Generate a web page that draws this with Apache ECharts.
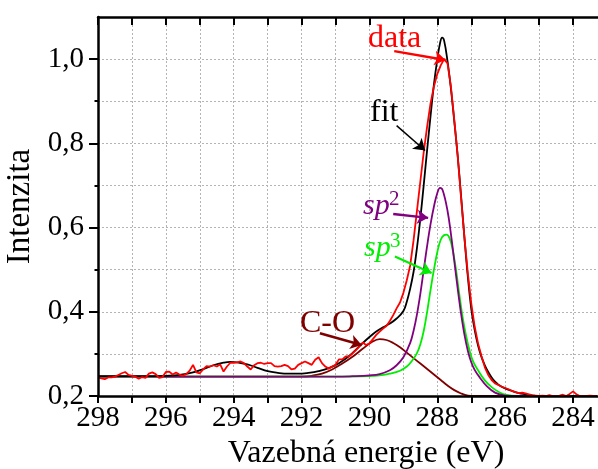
<!DOCTYPE html>
<html><head><meta charset="utf-8">
<script src="https://cdn.jsdelivr.net/npm/echarts@6/dist/echarts.min.js"></script>
<style>html,body{margin:0;padding:0;background:#fff}#c{width:598px;height:469px}</style>
</head><body><div id="c"></div><script>
// ---- tick labels ----
const xTickLabels = [298, 296, 294, 292, 290, 288, 286, 284];
const yTickLabels = [0.2, 0.4, 0.6, 0.8, 1.0];
const yMinorTicks = [0.3, 0.5, 0.7, 0.9];

// ---- measured spectrum (red) [E, I] ----
const dataPoints = [
[298.0,0.244],[297.9,0.242],[297.8,0.240],[297.7,0.244],[297.6,0.244],[297.5,0.246],[297.4,0.250],[297.3,0.254],[297.2,0.257],[297.1,0.250],
[297.0,0.248],[296.9,0.246],[296.8,0.241],[296.7,0.245],[296.6,0.243],[296.5,0.253],[296.4,0.256],[296.3,0.252],[296.2,0.243],[296.1,0.245],
[296.0,0.257],[295.9,0.258],[295.8,0.251],[295.7,0.256],[295.6,0.251],[295.5,0.248],[295.4,0.252],[295.3,0.260],[295.2,0.274],[295.1,0.256],
[295.0,0.254],[294.9,0.263],[294.8,0.271],[294.7,0.270],[294.6,0.273],[294.5,0.270],[294.4,0.275],[294.3,0.258],[294.2,0.270],[294.1,0.279],
[294.0,0.279],[293.9,0.280],[293.8,0.282],[293.7,0.278],[293.6,0.270],[293.5,0.263],[293.4,0.273],[293.3,0.278],[293.2,0.279],[293.1,0.276],
[293.0,0.278],[292.9,0.278],[292.8,0.271],[292.7,0.270],[292.6,0.271],[292.5,0.274],[292.4,0.271],[292.3,0.263],[292.2,0.265],[292.1,0.274],
[292.0,0.278],[291.9,0.282],[291.8,0.278],[291.7,0.274],[291.6,0.286],[291.5,0.292],[291.4,0.278],[291.3,0.270],[291.2,0.265],[291.1,0.270],
[291.0,0.274],[290.9,0.287],[290.8,0.287],[290.7,0.294],[290.6,0.294],[290.5,0.301],[290.4,0.309],[290.3,0.317],[290.2,0.327],[290.1,0.321],
[290.0,0.325],[289.9,0.335],[289.8,0.345],[289.7,0.353],[289.6,0.360],[289.5,0.366],[289.4,0.378],[289.3,0.392],[289.2,0.408],[289.1,0.422],
[289.0,0.445],[288.9,0.475],[288.8,0.510],[288.7,0.570],[288.6,0.640],[288.5,0.710],[288.4,0.780],[288.3,0.840],[288.2,0.895],[288.1,0.935],
[288.0,0.965],[287.9,0.985],[287.8,1.000],[287.7,0.990],[287.6,0.935],[287.5,0.855],[287.4,0.770],[287.3,0.670],[287.2,0.575],[287.1,0.490],
[287.0,0.420],[286.9,0.365],[286.8,0.325],[286.7,0.295],[286.6,0.268],[286.5,0.250],[286.4,0.238],[286.3,0.230],[286.2,0.226],[286.1,0.222],
[286.0,0.219],[285.9,0.216],[285.8,0.212],[285.7,0.209],[285.6,0.207],[285.5,0.208],[285.4,0.206],[285.3,0.204],[285.2,0.202],[285.1,0.201],
[285.0,0.200],[284.9,0.201],[284.8,0.200],[284.7,0.202],[284.6,0.200],[284.5,0.200],[284.4,0.201],[284.3,0.203],[284.2,0.200],[284.1,0.205],
[284.0,0.211],[283.9,0.204],[283.8,0.200],[283.7,0.200],[283.6,0.200],[283.5,0.201],[283.4,0.200],[283.3,0.200]
];

// ---- total fit (black) ----
const fitPoints = [
[298.0,0.247],[296.5,0.247],[296.0,0.248],[295.6,0.250],[295.2,0.256],[294.9,0.264],[294.6,0.273],[294.3,0.279],[294.1,0.281],[293.9,0.280],
[293.6,0.275],[293.3,0.267],[293.0,0.259],[292.7,0.255],[292.4,0.253],[292.1,0.253],[291.8,0.255],[291.5,0.259],[291.2,0.266],[290.9,0.278],
[290.6,0.295],[290.3,0.318],[290.0,0.340],[289.8,0.353],[289.6,0.363],[289.4,0.372],[289.2,0.384],[289.0,0.402],[288.9,0.424],[288.8,0.455],
[288.7,0.495],[288.6,0.552],[288.5,0.622],[288.4,0.702],[288.3,0.785],[288.2,0.865],[288.1,0.940],[288.0,1.000],[287.92,1.038],[287.86,1.051],
[287.8,1.044],[287.7,0.995],[287.6,0.930],[287.5,0.852],[287.4,0.770],[287.3,0.675],[287.2,0.575],[287.1,0.482],[287.0,0.407],[286.9,0.357],
[286.8,0.320],[286.7,0.293],[286.6,0.273],[286.5,0.257],[286.4,0.244],[286.3,0.234],[286.2,0.227],[286.0,0.218],[285.8,0.212],[285.6,0.207],
[285.4,0.204],[285.2,0.201],[285.0,0.200],[283.3,0.200]
];

// ---- sp2 component (purple) ----
const sp2Points = [
[298.0,0.246],[291.0,0.246],[290.5,0.247],[290.0,0.249],[289.7,0.252],[289.4,0.261],[289.2,0.273],[289.0,0.292],[288.8,0.326],[288.7,0.355],
[288.6,0.394],[288.5,0.443],[288.4,0.500],[288.3,0.557],[288.2,0.608],[288.1,0.650],[288.0,0.682],[287.92,0.694],[287.84,0.688],[287.7,0.640],
[287.6,0.585],[287.5,0.520],[287.4,0.455],[287.3,0.395],[287.2,0.345],[287.1,0.307],[287.0,0.280],[286.9,0.262],[286.75,0.244],[286.55,0.224],
[286.3,0.208],[286.0,0.201],[285.7,0.200],[283.3,0.200]
];

// ---- sp3 component (green) ----
const sp3Points = [
[298.0,0.246],[290.5,0.246],[290.0,0.247],[289.7,0.249],[289.4,0.253],[289.1,0.260],[288.9,0.270],[288.75,0.283],[288.6,0.302],[288.5,0.323],
[288.4,0.355],[288.3,0.400],[288.2,0.452],[288.1,0.500],[288.0,0.542],[287.9,0.571],[287.8,0.582],[287.73,0.583],[287.64,0.575],[287.55,0.548],
[287.45,0.500],[287.35,0.440],[287.25,0.385],[287.15,0.342],[287.05,0.308],[286.95,0.283],[286.8,0.261],[286.6,0.237],[286.4,0.221],[286.2,0.210],
[286.0,0.203],[285.6,0.200],[283.3,0.200]
];

// ---- C-O component (dark red) ----
const coPoints = [
[298.0,0.246],[292.0,0.246],[291.7,0.248],[291.4,0.253],[291.1,0.263],[290.8,0.277],[290.5,0.293],[290.2,0.312],[289.95,0.327],[289.7,0.335],
[289.5,0.333],[289.3,0.326],[289.1,0.316],[288.9,0.303],[288.7,0.290],[288.5,0.277],[288.3,0.264],[288.1,0.251],[287.9,0.238],[287.7,0.225],
[287.5,0.214],[287.3,0.206],[287.1,0.201],[286.9,0.200],[283.3,0.200]
];

const FONT = '"Liberation Serif", serif';
const RED = '#ff0000', PURPLE = '#800080', GREEN = '#00ee00', MAROON = '#800000';

function arrow(color, width, from, to) {
  return {
    silent: true, symbol: ['none', 'arrow'], symbolSize: 11,
    label: { show: false },
    lineStyle: { color: color, width: width, type: 'solid' },
    data: [[{ coord: from }, { coord: to }]]
  };
}

function lineSeries(name, pts, color, smooth, z, ml) {
  return {
    name: name, type: 'line', data: pts, xAxisIndex: 0, yAxisIndex: 0,
    showSymbol: false, symbol: 'none', smooth: smooth, z: z,
    lineStyle: { color: color, width: 1.8 }, itemStyle: { color: color },
    markLine: ml
  };
}

const chart = echarts.init(document.getElementById('c'), null, { renderer: 'canvas' });
const xCommon = { type: 'value', min: 283, max: 298, interval: 1, inverse: true };
const yCommon = { type: 'value', min: 0.2, max: 1.1, interval: 0.1 };
const labelFont = { fontFamily: FONT, fontSize: 29, color: '#000' };
chart.setOption({
  backgroundColor: '#ffffff',
  animation: false,
  textStyle: { fontFamily: FONT },
  grid: { left: 98, right: -9, top: 17, bottom: 73, outerBoundsMode: 'none', containLabel: false },
  xAxis: [
    Object.assign({}, xCommon, {
      position: 'bottom', z: 5,
      name: 'Vazebná energie (eV)', nameLocation: 'middle', nameGap: 36,
      nameTextStyle: { fontFamily: FONT, fontSize: 32, color: '#000', padding: [0, 0, 0, 27] },
      axisLine: { show: true, onZero: false, lineStyle: { color: '#000', width: 2.5 } },
      axisTick: { show: true, inside: false, length: 7, lineStyle: { color: '#000', width: 2 } },
      axisLabel: Object.assign({ show: true, customValues: xTickLabels, margin: 8,
                   formatter: v => String(Math.round(v)) }, labelFont),
      splitLine: { show: false }
    }),
    Object.assign({}, xCommon, {
      position: 'top',
      axisLine: { show: true, onZero: false, lineStyle: { color: '#000', width: 2.5 } },
      axisTick: { show: true, inside: true, length: 8, lineStyle: { color: '#000', width: 2 } },
      axisLabel: { show: false },
      splitLine: { show: true, lineStyle: { color: '#b4b4b4', width: 1, type: [2, 2] } }
    })
  ],
  yAxis: [
    Object.assign({}, yCommon, {
      position: 'left', z: 5,
      name: 'Intenzita', nameLocation: 'middle', nameGap: 58, nameRotate: 90,
      nameTextStyle: { fontFamily: FONT, fontSize: 33, color: '#000' },
      axisLine: { show: true, onZero: false, lineStyle: { color: '#000', width: 2.5 } },
      axisTick: { show: true, inside: false, length: 9, customValues: yTickLabels, lineStyle: { color: '#000', width: 2 } },
      axisLabel: Object.assign({ show: true, customValues: yTickLabels, margin: 14,
                   formatter: v => v.toFixed(1).replace('.', ',') }, labelFont),
      splitLine: { show: false }
    }),
    Object.assign({}, yCommon, {
      position: 'left', z: 5,
      axisLine: { show: false },
      axisTick: { show: true, inside: false, length: 3.5, customValues: yMinorTicks, lineStyle: { color: '#000', width: 2 } },
      axisLabel: { show: false },
      splitLine: { show: false }
    }),
    Object.assign({}, yCommon, {
      position: 'left',
      axisLine: { show: false },
      axisTick: { show: false },
      axisLabel: { show: false },
      splitLine: { show: true, lineStyle: { color: '#b4b4b4', width: 1, type: [2, 2] } }
    })
  ],
  series: [
    lineSeries('C-O', coPoints, MAROON, 0.4, 2, arrow(MAROON, 2.5, [291.46, 0.349], [290.23, 0.321])),
    lineSeries('sp3', sp3Points, GREEN, 0.4, 2, arrow(GREEN, 2.2, [289.25, 0.531], [288.17, 0.492])),
    lineSeries('sp2', sp2Points, PURPLE, 0.4, 2, arrow(PURPLE, 2.5, [289.30, 0.632], [288.27, 0.623])),
    lineSeries('fit', fitPoints, '#000000', 0.4, 3, arrow('#000000', 1.5, [289.20, 0.842], [288.36, 0.783])),
    lineSeries('data', dataPoints, RED, false, 4, arrow(RED, 2.5, [289.27, 1.019], [287.76, 0.998]))
  ],
  graphic: [
    { type: 'text', z: 100, style: { text: 'data', x: 368, y: 39, fill: RED, font: '32px "Liberation Serif"', textAlign: 'left', textVerticalAlign: 'middle' } },
    { type: 'text', z: 100, style: { text: 'fit', x: 370, y: 113, fill: '#000', font: '32px "Liberation Serif"', textAlign: 'left', textVerticalAlign: 'middle' } },
    { type: 'text', z: 100, style: { text: 'sp', x: 363, y: 206, fill: PURPLE, font: 'italic 30px "Liberation Serif"', textAlign: 'left', textVerticalAlign: 'middle' } },
    { type: 'text', z: 100, style: { text: '2', x: 389, y: 199, fill: PURPLE, font: '21px "Liberation Serif"', textAlign: 'left', textVerticalAlign: 'middle' } },
    { type: 'text', z: 100, style: { text: 'sp', x: 364, y: 248, fill: GREEN, font: 'italic 30px "Liberation Serif"', textAlign: 'left', textVerticalAlign: 'middle' } },
    { type: 'text', z: 100, style: { text: '3', x: 390, y: 241, fill: GREEN, font: '21px "Liberation Serif"', textAlign: 'left', textVerticalAlign: 'middle' } },
    { type: 'text', z: 100, style: { text: 'C-O', x: 300, y: 324, fill: MAROON, font: '32px "Liberation Serif"', textAlign: 'left', textVerticalAlign: 'middle' } }
  ]
});
</script></body></html>
